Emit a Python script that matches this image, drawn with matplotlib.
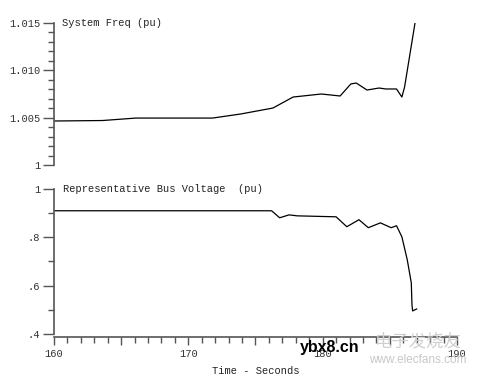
import matplotlib
matplotlib.use('Agg')
import matplotlib.pyplot as plt
from matplotlib.ticker import MultipleLocator, FuncFormatter

# system frequency (pu)
t_freq = [160.0, 163.6, 166.1, 171.8, 173.9, 176.3, 177.8, 179.9, 181.3, 182.1,
          182.5, 183.3, 184.2, 184.7, 185.5, 185.7, 185.9, 186.1, 186.9]
freq = [1.00465, 1.00470, 1.00496, 1.00496, 1.00539, 1.00602, 1.00718, 1.00750,
        1.00729, 1.00856, 1.00866, 1.00792, 1.00813, 1.00803, 1.00803, 1.00760,
        1.00718, 1.00824, 1.01520]

# representative bus voltage (pu), bottom trace
t_volt = [160.0, 176.2, 176.8, 177.5, 178.1, 181.0, 181.8, 182.7, 183.4, 184.3,
          185.1, 185.5, 185.9, 186.3, 186.6, 186.65, 186.7, 187.0]
volt = [0.909, 0.909, 0.880, 0.892, 0.888, 0.884, 0.843, 0.872, 0.839, 0.859,
        0.839, 0.847, 0.801, 0.706, 0.611, 0.520, 0.495, 0.503]

xticks_lab = [160, 170, 180, 190]
font = 'Liberation Mono'
gray = '#555555'

fig = plt.figure(figsize=(4.78, 3.76), dpi=100)
ax1 = fig.add_axes([0.113, 0.561, 0.843, 0.378])
ax2 = fig.add_axes([0.113, 0.112, 0.843, 0.386])

def style(ax):
    for s in ['top', 'right', 'bottom']:
        ax.spines[s].set_visible(False)
    ax.spines['left'].set_color(gray)
    ax.spines['left'].set_linewidth(1.2)
    ax.tick_params(axis='y', which='major', length=8, color=gray, width=1,
                   labelsize=7.5, labelcolor='#333333', pad=2)
    ax.tick_params(axis='y', which='minor', length=4, color=gray, width=1)
    for lab in ax.get_yticklabels():
        lab.set_family(font)
    ax.set_xlim(160, 190)

# top: frequency
ax1.plot(t_freq, freq, color='black', lw=0.9)
ax1.set_ylim(1.0, 1.015)
ax1.yaxis.set_major_locator(MultipleLocator(0.005))
ax1.yaxis.set_minor_locator(MultipleLocator(0.001))
ax1.yaxis.set_major_formatter(FuncFormatter(lambda v, p: '1' if abs(v - 1) < 1e-9 else '%.3f' % v))
ax1.set_xticks([])
style(ax1)
ax1.text(0.02, 1.0, 'System Freq (pu)', transform=ax1.transAxes, family=font,
         fontsize=7.5, va='center', ha='left', color='#222222')

# bottom: voltage
ax2.plot(t_volt, volt, color='black', lw=0.9)
ax2.set_ylim(0.4, 1.0)
ax2.yaxis.set_major_locator(MultipleLocator(0.2))
ax2.yaxis.set_minor_locator(MultipleLocator(0.1))
ax2.yaxis.set_major_formatter(FuncFormatter(lambda v, p: '1' if abs(v - 1) < 1e-9 else ('%.1f' % v).lstrip('0')))
style(ax2)
ax2.spines['bottom'].set_visible(True)
ax2.spines['bottom'].set_position(('outward', 2))
ax2.spines['bottom'].set_color(gray)
ax2.spines['bottom'].set_linewidth(1.2)
ax2.xaxis.set_major_locator(MultipleLocator(5))
ax2.xaxis.set_minor_locator(MultipleLocator(1))
ax2.xaxis.set_major_formatter(FuncFormatter(lambda v, p: str(int(round(v))) if int(round(v)) in xticks_lab else ''))
ax2.tick_params(axis='x', which='major', length=6, color=gray, width=1,
                labelsize=7.5, labelcolor='#333333', pad=3)
ax2.tick_params(axis='x', which='minor', length=4, color=gray, width=1)
for lab in ax2.get_xticklabels():
    lab.set_family(font)
ax2.set_xlabel('Time - Seconds', family=font, fontsize=7.5, color='#222222', labelpad=5)
ax2.text(0.022, 1.0, 'Representative Bus Voltage  (pu)', transform=ax2.transAxes,
         family=font, fontsize=7.5, va='center', ha='left', color='#222222')

# watermarks
fig.text(0.627, 0.075, 'ybx8.cn', family='Liberation Sans', fontweight='bold',
         fontsize=11.5, color='black', ha='left', va='center')
fig.text(0.875, 0.093, '电子发烧友', family=['Noto Sans CJK SC', 'DejaVu Sans'],
         fontsize=12.5, color='#cfcfcf', ha='center', va='center', style='italic')
fig.text(0.875, 0.042, 'www.elecfans.com', family='Liberation Sans',
         fontsize=8.5, color='#c8c8c8', ha='center', va='center')

fig.savefig('out.png', dpi=100)
